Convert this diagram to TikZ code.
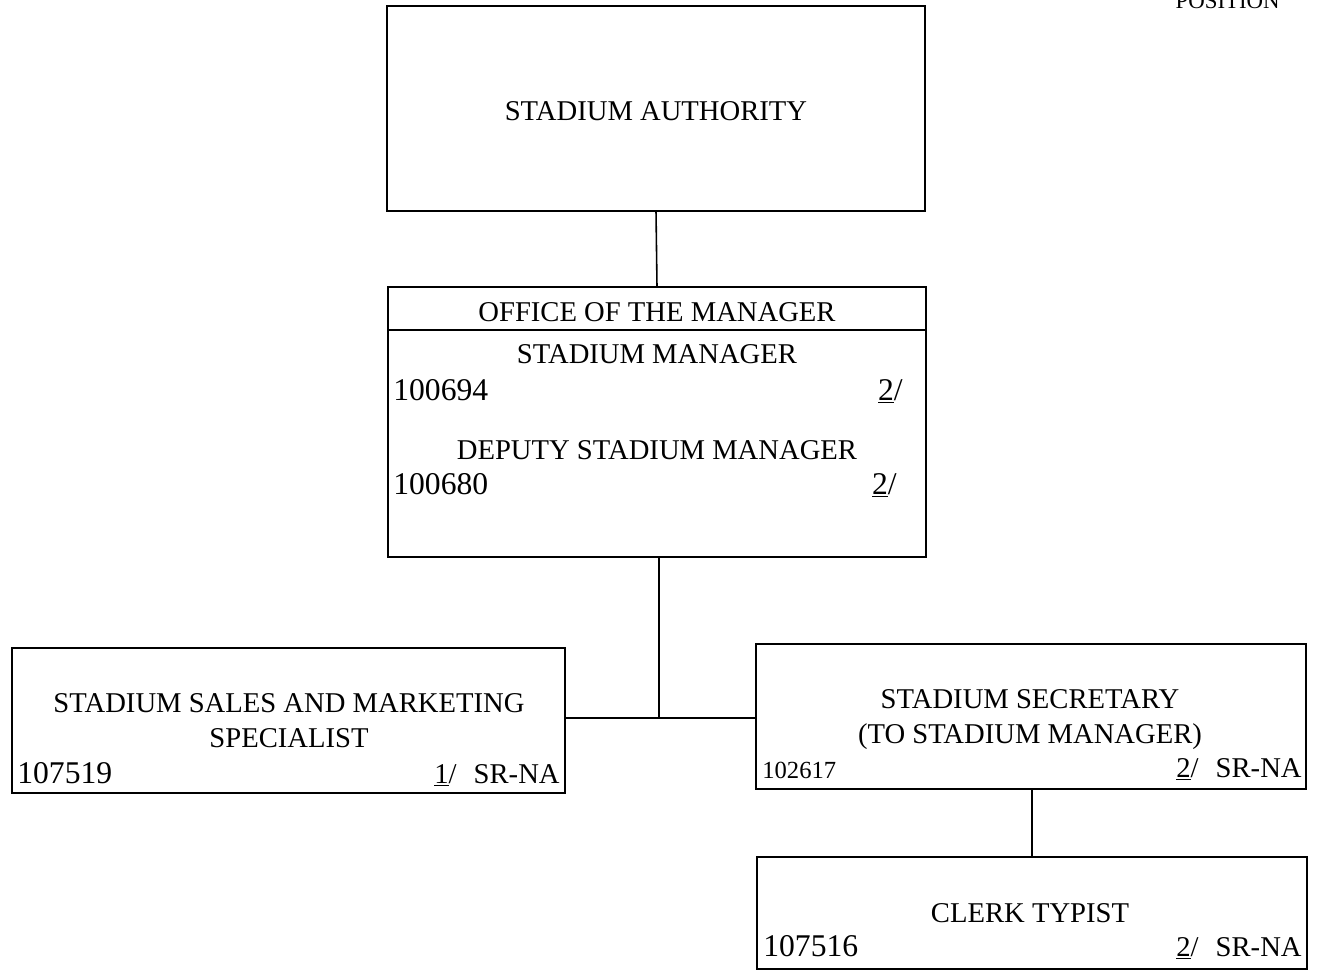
\documentclass[tikz,border=0pt]{standalone}
\usepackage{fontspec}
\setmainfont{Liberation Serif}
\usepackage{tikz}
\usetikzlibrary{calc}
\usetikzlibrary{positioning}
\tikzstyle{box} = [rectangle, draw = black, line width = 0.9pt, inner sep = 0, outer sep = 0]
\tikzstyle{lbl} = [draw = none, inner sep = 0, font = \fontsize{16.3}{19.5}\selectfont]
\tikzstyle{num} = [draw = none, inner sep = 0, font = \fontsize{18}{20}\selectfont]
\tikzstyle{link} = [-, draw = black, line width = 0.9pt]

\begin{document}
\begin{tikzpicture}[x = 0.02cm, y = -0.02cm]
\useasboundingbox (0, 0) rectangle (1318, 975);
\clip (0, 0) rectangle (1318, 975);
\node [lbl, anchor = base east, font = \fontsize{13}{15}\selectfont] (pos) at (1280, 8) {POSITION};
% boxes
\node [box, minimum width = 10.76cm, minimum height = 4.10cm] (auth) at (656, 108.5) {};
\node [box, minimum width = 10.76cm, minimum height = 0.86cm] (offhead) at (657, 308.5) {};
\node [box, minimum width = 10.76cm, minimum height = 4.54cm] (office) at (657, 443.5) {};
\node [box, minimum width = 11.06cm, minimum height = 2.90cm] (sales) at (288.5, 720.5) {};
\node [box, minimum width = 11.00cm, minimum height = 2.90cm] (secr) at (1031, 716.5) {};
\node [box, minimum width = 11.00cm, minimum height = 2.24cm] (clerk) at (1032, 913) {};
% texts (two-line nodes sit on the base of their last line)
\node [lbl, anchor = base] (authT) at (656, 120) {STADIUM AUTHORITY};
\node [lbl, anchor = base] (offT) at (657, 321) {OFFICE OF THE MANAGER};
\node [lbl, anchor = base] (mgrT) at (657, 363) {STADIUM MANAGER};
\node [num, anchor = base west] (mgrN) at (393, 400) {100694};
\node [num, anchor = base east] (mgrF) at (903, 400) {\underline{2}/};
\node [lbl, anchor = base] (depT) at (657, 459) {DEPUTY STADIUM MANAGER};
\node [num, anchor = base west] (depN) at (393, 494) {100680};
\node [num, anchor = base east] (depF) at (897, 494) {\underline{2}/};
\node [lbl, anchor = base, align = center] (salesT) at (289, 747) {STADIUM SALES AND MARKETING\\SPECIALIST};
\node [num, anchor = base west] (salesN) at (17, 783) {107519};
\node [lbl, anchor = base east] (salesF) at (560, 783) {\underline{1}/\hspace{0.6em}SR-NA};
\node [lbl, anchor = base, align = center] (secrT) at (1030, 743) {STADIUM SECRETARY\\(TO STADIUM MANAGER)};
\node [lbl, anchor = base west, font = \fontsize{14}{16}\selectfont] (secrN) at (762, 778) {102617};
\node [lbl, anchor = base east] (secrF) at (1302, 777) {\underline{2}/\hspace{0.6em}SR-NA};
\node [lbl, anchor = base] (clerkT) at (1030, 922) {CLERK TYPIST};
\node [num, anchor = base west] (clerkN) at (763, 956) {107516};
\node [lbl, anchor = base east] (clerkF) at (1302, 956) {\underline{2}/\hspace{0.6em}SR-NA};
% lines
\coordinate (J) at (659, 718);
\draw [link] (auth.south) to (offhead.north);
\draw [link] (office.south -| J) to (J);
\draw [link] (sales.east |- J) to (secr.west |- J);
\draw [link] (secr.south -| clerk.north) to (clerk.north);
\end{tikzpicture}
\end{document}
